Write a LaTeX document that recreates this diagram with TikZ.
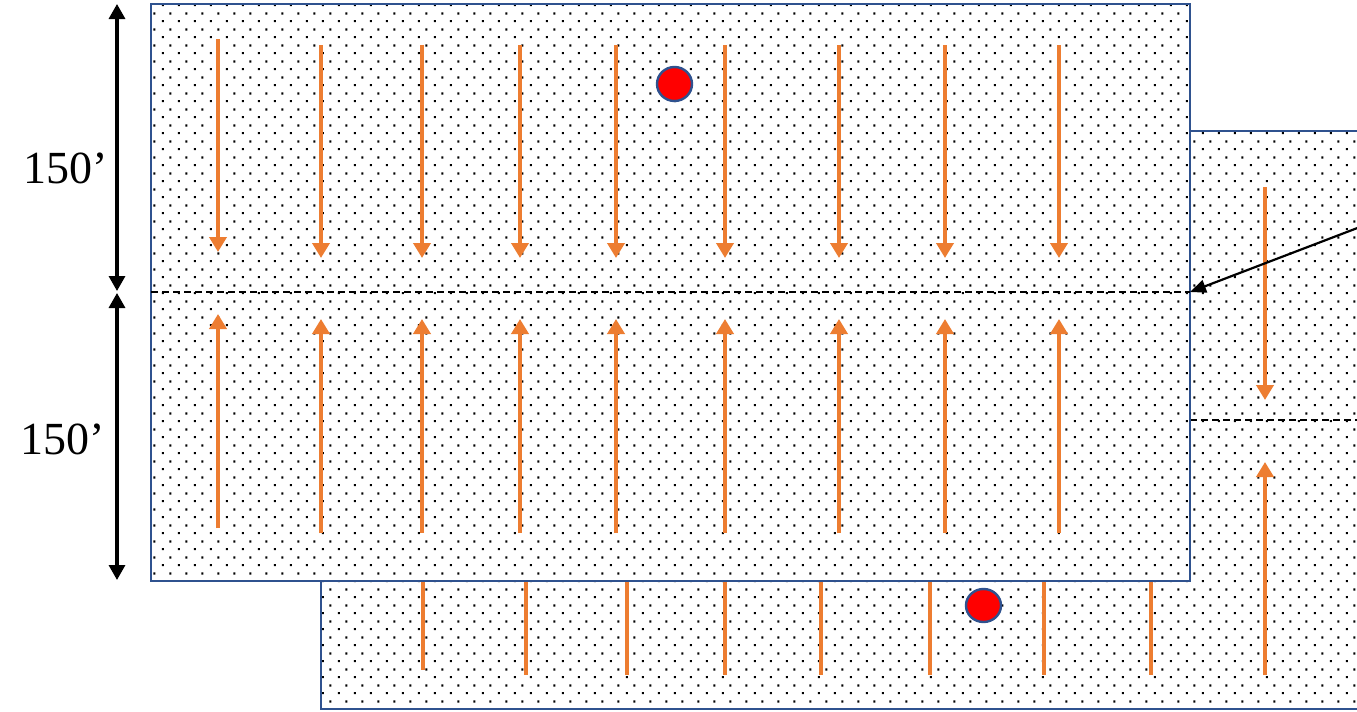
\documentclass[tikz,border=0pt]{standalone}
\usepackage{fontspec}
\setmainfont{Liberation Serif}
\usetikzlibrary{patterns,arrows.meta}
\definecolor{pblue}{HTML}{2F528F}
\definecolor{porange}{HTML}{ED7D31}
\pgfdeclarepatternformonly{pptdots}{\pgfpointorigin}{\pgfpoint{8pt}{8pt}}{\pgfpoint{8pt}{8pt}}{%
  \pgfpathrectangle{\pgfpoint{1pt}{1pt}}{\pgfpoint{1.1pt}{1.1pt}}%
  \pgfpathrectangle{\pgfpoint{5pt}{5pt}}{\pgfpoint{1.1pt}{1.1pt}}%
  \pgfusepath{fill}}
\begin{document}
\begin{tikzpicture}[x=0.5pt,y=-0.5pt,
  area/.style={draw=pblue,line width=1.3pt,preaction={fill=white},pattern=pptdots},
  flow/.style={draw=porange,line width=2.3pt,-{Triangle[length=7.5pt,width=8.5pt]}},
  stub/.style={draw=porange,line width=2.3pt},
  split/.style={draw=black,line width=0.85pt,dash pattern=on 3.5pt off 2pt},
  dim/.style={draw=black,line width=1.6pt,{Triangle[length=7.5pt,width=8pt]}-{Triangle[length=7.5pt,width=8pt]}},
  pointer/.style={draw=black,line width=1.1pt,-{Triangle[length=8pt,width=6.5pt]}},
  well/.style={draw=pblue,line width=1.2pt,fill=red},
  lbl/.style={font=\fontsize{23}{26}\selectfont,inner sep=0pt}]
\useasboundingbox (0,0) rectangle (1357,712);
\clip (0,0) rectangle (1357,712);
% back panel
\path[area] (321,131) rectangle (1420,709);
\draw[split] (321,420) -- (1420,420);
\draw[stub] (423,560) -- (423,670);
\foreach \x in {526,627,725,821,930,1044,1151}
  \draw[stub] (\x,560) -- (\x,675);
\draw[flow] (1265,187) -- (1265,400);
\draw[flow] (1265,675) -- (1265,462);
\draw[well] (983.5,605.5) ellipse [x radius=8.75pt,y radius=8.25pt];
% front panel
\path[area] (151,4) rectangle (1190,581);
\draw[split] (151,292) -- (1190,292);
\draw[flow] (218,39) -- (218,252);
\draw[flow] (218,528) -- (218,314);
\foreach \x in {321,422,520,616,725,839,945,1059}{
  \draw[flow] (\x,45) -- (\x,258);
  \draw[flow] (\x,533) -- (\x,319);
}
\draw[well] (674.5,84) ellipse [x radius=8.75pt,y radius=8.5pt];
% dimensions
\coordinate (d1) at (117,4);
\coordinate (d2) at (117,291);
\coordinate (d3) at (117,293);
\coordinate (d4) at (117,580);
\draw[dim] (d1) -- (d2);
\draw[dim] (d3) -- (d4);
\node[lbl] (l1) at (66,168) {150’};
\node[lbl] (l2) at (63,439) {150’};
% pointer
\coordinate (p0) at (1360,227);
\coordinate (p1) at (1190,292);
\draw[pointer] (p0) -- (p1);
\end{tikzpicture}
\end{document}
